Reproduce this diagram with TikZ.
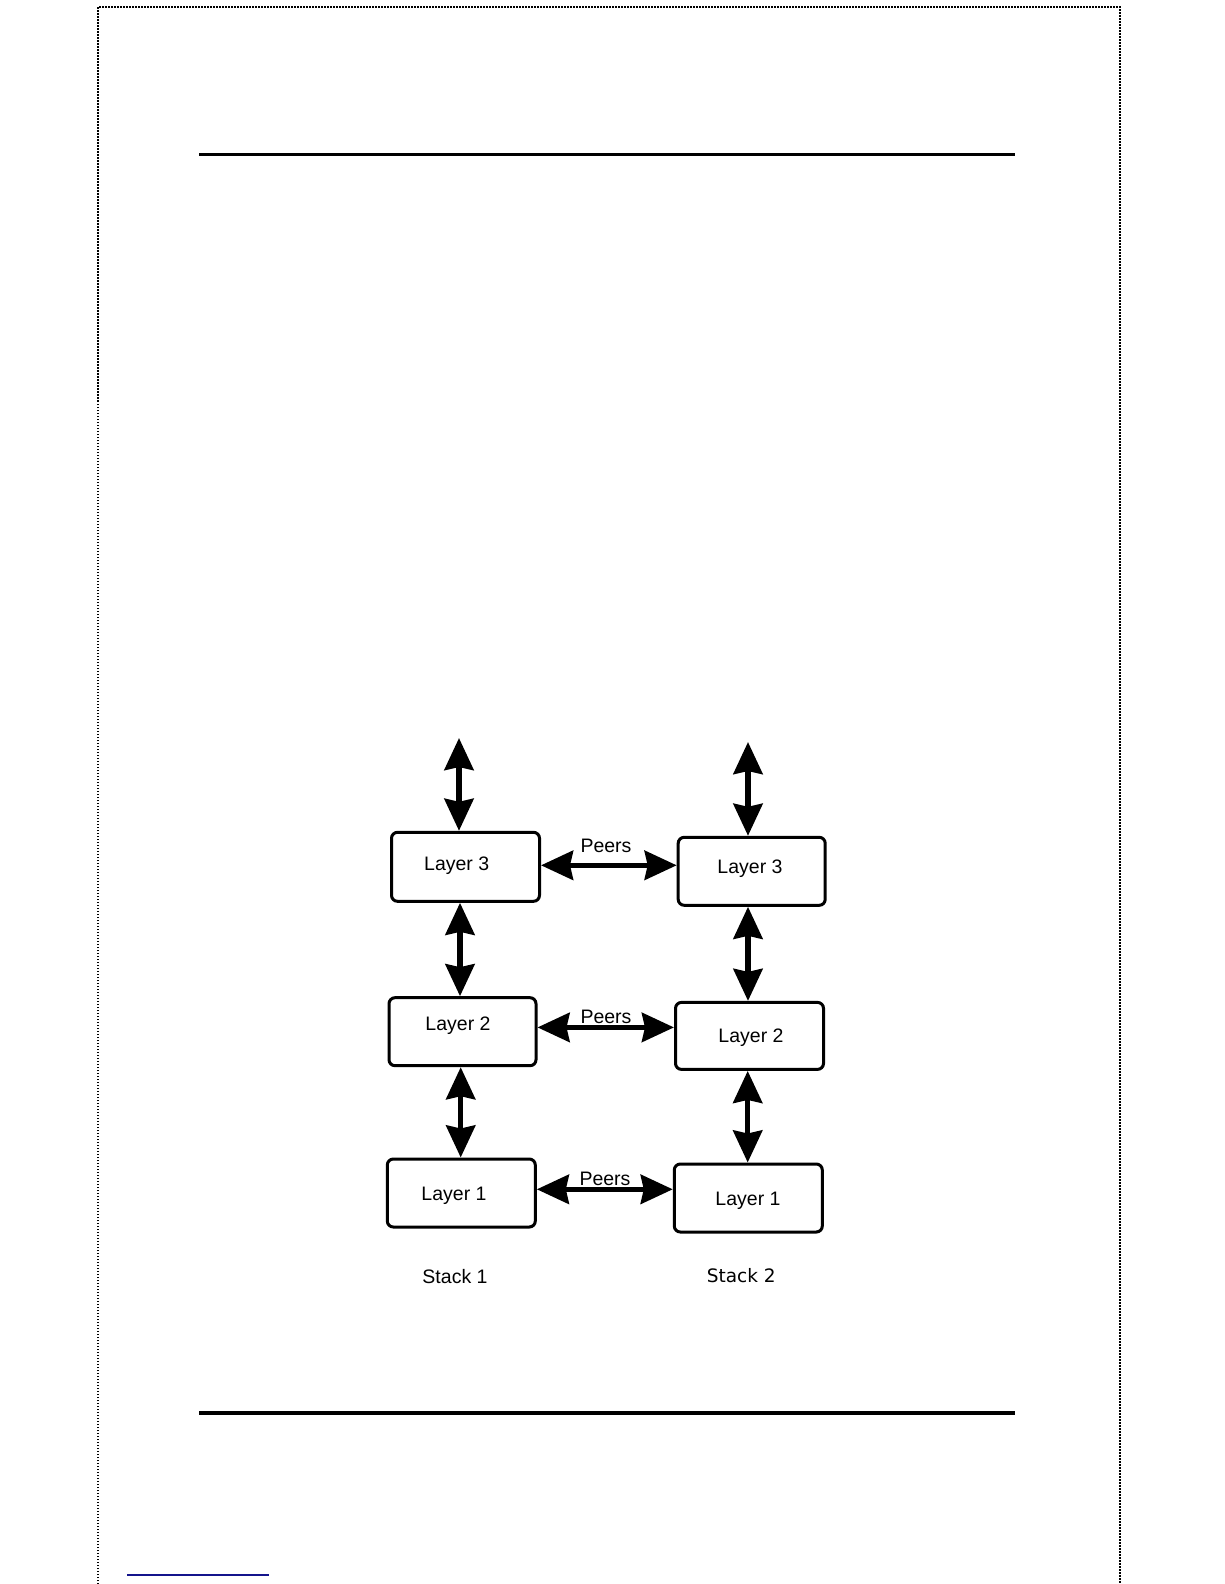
\documentclass[tikz,border=0pt]{standalone}
\usepackage{fontspec}
\setmainfont{Liberation Sans}
\newfontfamily\verafont{DejaVu Sans}
\usetikzlibrary{arrows.meta}
\begin{document}
\begin{tikzpicture}[x=1pt,y=-1pt,
  box/.style={draw=black, line width=3pt, rounded corners=6pt, inner sep=0pt},
  lbl/.style={anchor=base, inner sep=0pt, font=\fontsize{19.5}{22}\selectfont},
  biarrow/.style={line width=5.5pt, {Stealth[length=32pt,width=29pt,inset=3pt]}-{Stealth[length=32pt,width=29pt,inset=3pt]}},
  dotline/.style={line width=1.5pt, dash pattern=on 1.5pt off 1.5pt}]
\useasboundingbox (0,0) rectangle (1224,1584);
\fill[white] (0,0) rectangle (1224,1584);
% page frame
\draw[dotline] (98,1584) -- (98,7) -- (1120,7) -- (1120,1584);
\draw[line width=2.5pt] (199,154.5) -- (1015,154.5);
\draw[line width=4pt] (199,1412.5) -- (1015,1412.5);
\draw[line width=1.8pt, draw={rgb,255:red,20;green,20;blue,140}] (127,1575.3) -- (269,1575.3);
% boxes
\node[box, minimum width=148pt, minimum height=69pt] (l3) at (465.5,866.8) {};
\node[box, minimum width=147pt, minimum height=68pt] (r3) at (751.7,871.3) {};
\node[box, minimum width=147pt, minimum height=68pt] (l2) at (462.5,1031.7) {};
\node[box, minimum width=148pt, minimum height=67pt] (r2) at (749.5,1035.9) {};
\node[box, minimum width=148pt, minimum height=68pt] (l1) at (461.3,1193) {};
\node[box, minimum width=148pt, minimum height=68pt] (r1) at (748.3,1198) {};
% texts
\node[lbl] (tl3) at (456.7,870) {Layer 3};
\node[lbl] (tr3) at (750,873.3) {Layer 3};
\node[lbl] (tl2) at (458,1030.7) {Layer 2};
\node[lbl] (tr2) at (751,1042.7) {Layer 2};
\node[lbl] (tl1) at (454,1200) {Layer 1};
\node[lbl] (tr1) at (748,1205) {Layer 1};
\node[lbl] (p3) at (606,852.7) {Peers};
\node[lbl] (p2) at (606,1023.3) {Peers};
\node[lbl] (p1) at (605,1185) {Peers};
\node[lbl] (s1) at (455,1283.3) {Stack 1};
\node[lbl, font=\verafont\fontsize{18.5}{22}\selectfont] (s2) at (741.3,1282) {Stack 2};
% free ends of top arrows
\coordinate (topl) at (459,738);
\coordinate (topr) at (748,742);
% vertical arrows
\draw[biarrow] (topl) -- (topl |- l3.north);
\draw[biarrow] (topr) -- (topr |- r3.north);
\draw[biarrow] ([xshift=-5.5pt]l3.south) -- ([xshift=-5.5pt]l3.south |- l2.north);
\draw[biarrow] ([xshift=-1.8pt]l2.south) -- ([xshift=-1.8pt]l2.south |- l1.north);
\draw[biarrow] ([xshift=-3.7pt]r3.south) -- ([xshift=-3.7pt]r3.south |- r2.north);
\draw[biarrow] ([xshift=-1.8pt]r2.south) -- ([xshift=-1.8pt]r2.south |- r1.north);
% peer arrows
\draw[biarrow] ([yshift=1.5pt]l3.east) -- ([yshift=1.5pt]l3.east -| r3.west);
\draw[biarrow] ([yshift=4.3pt]l2.east) -- ([yshift=4.3pt]l2.east -| r2.west);
\draw[biarrow] ([yshift=3.7pt]l1.east) -- ([yshift=3.7pt]l1.east -| r1.west);
\end{tikzpicture}
\end{document}
